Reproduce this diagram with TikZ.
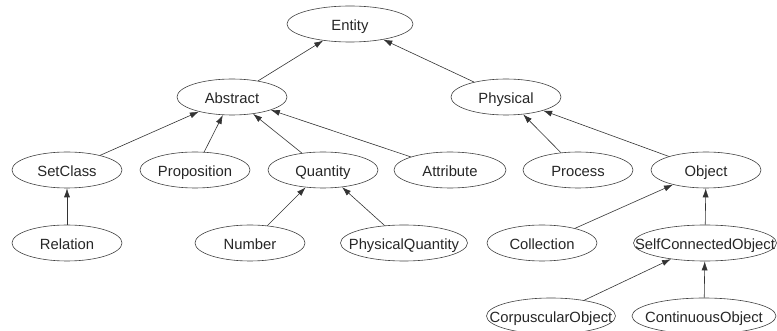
\documentclass[tikz,border=0pt]{standalone}
\usepackage{fontspec}
\setmainfont{Liberation Sans}
\usetikzlibrary{shapes.geometric,arrows.meta}

\newcommand{\cname}[1]{\makebox[0pt]{#1}}

\tikzset{
  cls/.style={ellipse, draw=black!75, line width=0.6pt, inner sep=0pt,
    minimum width=110pt, minimum height=36pt, font=\fontsize{14.8}{15}\selectfont,
    text=black!85, text height=13pt, text depth=0pt},
  isa/.style={-{Latex[length=9pt,width=6pt]}, line width=0.6pt, draw=black!80}
}

\begin{document}
\begin{tikzpicture}[x=1pt,y=-1pt]
  \useasboundingbox (0,0) rectangle (777,331);

  % top levels
  \node[cls, minimum width=126pt] (entity) at (350,24) {\cname{Entity}};
  \node[cls] (abstract) at (232,97) {\cname{Abstract}};
  \node[cls] (physical) at (506,97) {\cname{Physical}};

  % third row
  \node[cls] (setclass) at (67,170) {\cname{SetClass}};
  \node[cls] (proposition) at (195,170) {\cname{Proposition}};
  \node[cls] (quantity) at (323,170) {\cname{Quantity}};
  \node[cls, minimum width=112pt] (attribute) at (450,170) {\cname{Attribute}};
  \node[cls] (process) at (578,170) {\cname{Process}};
  \node[cls] (object) at (706,170) {\cname{Object}};

  % fourth row
  \node[cls] (relation) at (67,243) {\cname{Relation}};
  \node[cls] (number) at (250,243) {\cname{Number}};
  \node[cls, minimum width=127pt] (physquantity) at (404,243) {\cname{PhysicalQuantity}};
  \node[cls] (collection) at (542,243) {\cname{Collection}};
  \node[cls, minimum width=143pt] (selfconn) at (705,243) {\cname{SelfConnectedObject}};

  % bottom row
  \node[cls, minimum width=129pt] (corpuscular) at (551,316) {\cname{CorpuscularObject}};
  \node[cls, minimum width=144pt] (continuous) at (704,316) {\cname{ContinuousObject}};

  \draw[isa] (abstract) -- (entity);
  \draw[isa] (physical) -- (entity);

  \draw[isa] (setclass) -- (abstract);
  \draw[isa] (proposition) -- (abstract);
  \draw[isa] (quantity) -- (abstract);
  \draw[isa] (attribute) -- (abstract);
  \draw[isa] (process) -- (physical);
  \draw[isa] (object) -- (physical);

  \draw[isa] (relation) -- (setclass);
  \draw[isa] (number) -- (quantity);
  \draw[isa] (physquantity) -- (quantity);
  \draw[isa] (collection) -- (object);
  \draw[isa] (selfconn) -- (object);

  \draw[isa] (corpuscular) -- (selfconn);
  \draw[isa] (continuous) -- (selfconn);
\end{tikzpicture}
\end{document}
